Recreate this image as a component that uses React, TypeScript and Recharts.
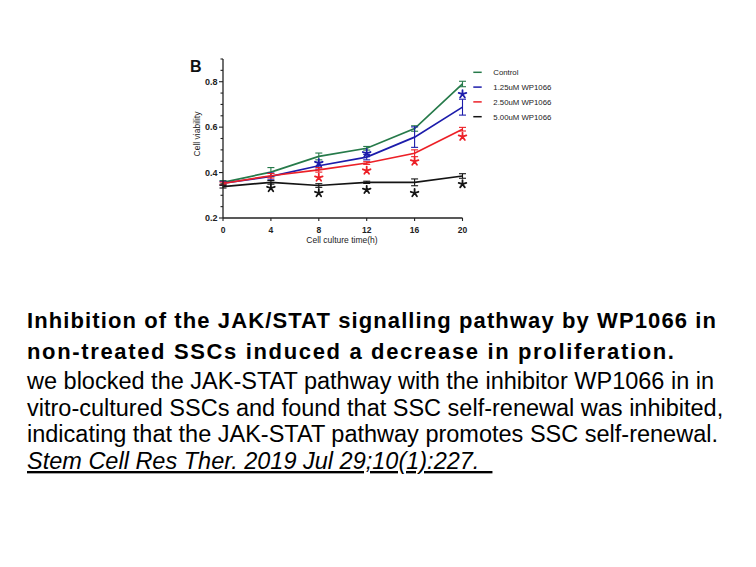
import React from "react";
import {
  ComposedChart,
  Line,
  Scatter,
  XAxis,
  YAxis,
  ErrorBar,
} from "recharts";

// hours
const times = [0, 4, 8, 12, 16, 20];

// cell viability per group
const control = [0.357, 0.402, 0.471, 0.507, 0.594, 0.79];
const controlErr = [0.008, 0.02, 0.015, 0.008, 0.012, 0.012];
const wp125 = [0.353, 0.383, 0.43, 0.468, 0.556, 0.688];
const wp125Err = [0.008, 0.015, 0.015, 0.012, 0.045, 0.035];
const wp250 = [0.352, 0.386, 0.412, 0.442, 0.485, 0.591];
const wp250Err = [0.006, 0.01, 0.01, 0.006, 0.015, 0.008];
const wp500 = [0.338, 0.357, 0.343, 0.357, 0.357, 0.385];
const wp500Err = [0.006, 0.008, 0.008, 0.005, 0.015, 0.01];

// significance marks
const blueStarT = [8, 12, 20];
const blueStarV = [0.442, 0.485, 0.745];
const redStarT = [8, 12, 16, 20];
const redStarV = [0.378, 0.409, 0.449, 0.558];
const blackStarT = [4, 8, 12, 16, 20];
const blackStarV = [0.332, 0.31, 0.324, 0.31, 0.349];

const yTicks = [0.2, 0.25, 0.3, 0.35, 0.4, 0.45, 0.5, 0.55, 0.6, 0.65, 0.7, 0.75, 0.8, 0.85, 0.9];
const yMajor = [0.2, 0.4, 0.6, 0.8];

const series = [
  { key: "control", name: "Control", color: "#267a4a" },
  { key: "wp125", name: "1.25uM WP1066", color: "#1c1cab" },
  { key: "wp250", name: "2.50uM WP1066", color: "#ec2027" },
  { key: "wp500", name: "5.00uM WP1066", color: "#141414" },
];

const data = times.map((t, i) => ({
  t,
  control: control[i],
  controlErr: controlErr[i],
  wp125: wp125[i],
  wp125Err: wp125Err[i],
  wp250: wp250[i],
  wp250Err: wp250Err[i],
  wp500: wp500[i],
  wp500Err: wp500Err[i],
}));

const toStars = (ts: number[], vs: number[]) => ts.map((t, i) => ({ t, v: vs[i] }));

const FONT = "'Liberation Sans', Arial, sans-serif";

const YTick = (props: any) => {
  const { x, y, payload } = props;
  const v = payload.value;
  const major = yMajor.some((m) => Math.abs(m - v) < 1e-6);
  return (
    <g>
      <line x1={x - (major ? 4 : 2.5)} x2={x} y1={y} y2={y} stroke="#222" strokeWidth={1.1} />
      {major && (
        <text x={x - 5.5} y={y + 3.2} textAnchor="end" fontSize={9} fontWeight="bold" fontFamily={FONT} fill="#222">
          {v.toFixed(1)}
        </text>
      )}
    </g>
  );
};

const XTick = (props: any) => {
  const { x, y, payload } = props;
  return (
    <g>
      <line x1={x} x2={x} y1={y} y2={y + 3} stroke="#222" strokeWidth={1.1} />
      <text x={x} y={y + 14.8} textAnchor="middle" fontSize={8.5} fontWeight="bold" fontFamily={FONT} fill="#222">
        {payload.value}
      </text>
    </g>
  );
};

// five-spoke asterisk
const Star = (props: any) => {
  const { cx, cy, fill } = props;
  const r = 4;
  let d = "";
  for (let k = 0; k < 5; k++) {
    const a = -Math.PI / 2 + (k * 2 * Math.PI) / 5;
    d += `M${cx} ${cy}L${cx + r * Math.cos(a)} ${cy + r * Math.sin(a)}`;
  }
  return <path d={d} stroke={fill} strokeWidth={1.8} strokeLinecap="round" fill="none" />;
};

export default function App() {
  return (
    <div style={{ position: "absolute", left: 0, top: 0, width: 756, height: 567, background: "#fff" }}>
      <div style={{ position: "absolute", left: 0, top: 0 }}>
        <ComposedChart width={520} height={260} data={data} margin={{ top: 59, right: 57.5, bottom: 12, left: 183 }}>
          <XAxis
            dataKey="t"
            type="number"
            domain={[0, 20]}
            ticks={times}
            tickSize={0}
            tickMargin={0}
            height={30}
            axisLine={{ stroke: "#222", strokeWidth: 1.3 }}
            tickLine={false}
            tick={(p: any) => <XTick {...p} />}
            interval={0}
          />
          <YAxis
            type="number"
            domain={[0.2, 0.9]}
            ticks={yTicks}
            width={40}
            tickSize={0}
            tickMargin={0}
            axisLine={{ stroke: "#222", strokeWidth: 1.3 }}
            tickLine={false}
            tick={(p: any) => <YTick {...p} />}
            interval={0}
          />
          {series.map((s) => (
            <Line
              key={s.key}
              dataKey={s.key}
              name={s.name}
              stroke={s.color}
              strokeWidth={1.7}
              dot={false}
              activeDot={false}
              isAnimationActive={false}
              type="linear"
            >
              <ErrorBar dataKey={`${s.key}Err`} width={3.5} stroke={s.color} strokeWidth={1.1} direction="y" />
            </Line>
          ))}
          <Scatter data={toStars(blueStarT, blueStarV)} dataKey="v" fill="#1c1cab" shape={<Star />} isAnimationActive={false} legendType="none" />
          <Scatter data={toStars(redStarT, redStarV)} dataKey="v" fill="#ec2027" shape={<Star />} isAnimationActive={false} legendType="none" />
          <Scatter data={toStars(blackStarT, blackStarV)} dataKey="v" fill="#141414" shape={<Star />} isAnimationActive={false} legendType="none" />
        </ComposedChart>
      </div>
      <svg width={756} height={567} style={{ position: "absolute", left: 0, top: 0, pointerEvents: "none" }}>
        {/* legend */}
        {series.map((s, i) => {
          const cy = 72.3 + i * 14.8;
          return (
            <g key={s.key}>
              <line x1={473.3} x2={481.7} y1={cy} y2={cy} stroke={s.color} strokeWidth={1.5} />
              <text x={493.3} y={cy + 2.8} fontSize={7.8} fontFamily={FONT} fill="#222">
                {s.name}
              </text>
            </g>
          );
        })}
        <text x={190} y={71.5} fontSize={16} fontWeight="bold" fontFamily={FONT} fill="#111">
          B
        </text>
        <text
          x={200}
          y={134}
          transform="rotate(-90 200 134)"
          textAnchor="middle"
          fontSize={8.5}
          fontFamily={FONT}
          fill="#222"
        >
          Cell viability
        </text>
        <text x={342} y={242.5} textAnchor="middle" fontSize={8.5} fontFamily={FONT} fill="#222">
          Cell culture time(h)
        </text>
        <g fontFamily={FONT} fill="#000">
          <text x={27} y={327.7} fontSize={22} fontWeight="bold" letterSpacing={1.1}>
            Inhibition of the JAK/STAT signalling pathway by WP1066 in
          </text>
          <text x={27} y={358.5} fontSize={22} fontWeight="bold" letterSpacing={1.65}>
            non-treated SSCs induced a decrease in proliferation.
          </text>
          <text x={27} y={389} fontSize={23.5}>
            we blocked the JAK-STAT pathway with the inhibitor WP1066 in in
          </text>
          <text x={27} y={415.7} fontSize={23.5}>
            vitro-cultured SSCs and found that SSC self-renewal was inhibited,
          </text>
          <text x={27} y={442.4} fontSize={23.5}>
            indicating that the JAK-STAT pathway promotes SSC self-renewal.
          </text>
          <text x={27} y={469} fontSize={23.5} fontStyle="italic" textDecoration="underline" style={{ whiteSpace: "pre" }}>
            {"Stem Cell Res Ther. 2019 Jul 29;10(1):227.  "}
          </text>
        </g>
      </svg>
    </div>
  );
}
